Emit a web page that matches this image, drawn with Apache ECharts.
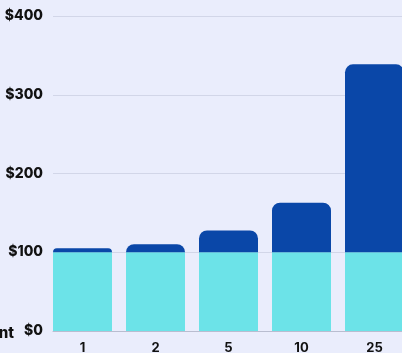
<!DOCTYPE html>
<html>
<head>
<meta charset="utf-8">
<script src="https://cdn.jsdelivr.net/npm/echarts@6/dist/echarts.min.js"></script>
<style>
html,body{margin:0;padding:0;background:#eaedfc;}
#c{width:402px;height:353px;}
</style>
</head>
<body>
<div id="c"></div>
<script>
var years = ['1', '2', '5', '10', '25'];
var initialAmount = [100, 100, 100, 100, 100];
var growthAmount = [5, 10.25, 27.63, 62.89, 238.64];
var yTicks = [0, 100, 200, 300, 400];

var chart = echarts.init(document.getElementById('c'), null, {renderer: 'canvas'});
var font = 'Inter, "Liberation Sans", Arial, sans-serif';
chart.setOption({
  backgroundColor: '#eaedfc',
  animation: false,
  grid: [
    {left: 46, top: 16, width: 365, height: 315, outerBoundsMode: 'none', containLabel: false},
    {left: 53, top: 16, right: 0, height: 315, outerBoundsMode: 'none', containLabel: false}
  ],
  xAxis: [
    {
      type: 'category', gridIndex: 0, data: years,
      axisLine: {show: false}, axisTick: {show: false},
      axisLabel: {margin: 11, color: '#111', fontSize: 13, fontWeight: 'bold', fontFamily: font}
    },
    {
      type: 'value', gridIndex: 1, min: 0, max: 1,
      axisLine: {show: true, onZero: false, lineStyle: {color: '#b9bdd0', width: 1}},
      axisTick: {show: false}, axisLabel: {show: false}, splitLine: {show: false}
    }
  ],
  yAxis: [
    {type: 'value', gridIndex: 0, min: 0, max: 400, interval: 100, show: false},
    {
      type: 'value', gridIndex: 1, min: yTicks[0], max: yTicks[yTicks.length - 1], interval: 100,
      axisLine: {show: false}, axisTick: {show: false},
      splitLine: {lineStyle: {color: '#d2d6e8', width: 1}},
      axisLabel: {
        margin: 10, color: '#111', fontSize: 14, fontWeight: 800, fontFamily: font,
        formatter: function (v) { return '$' + v; }
      }
    }
  ],
  graphic: [{
    type: 'text', z: 10,
    style: {x: 14, y: 333, text: 'Initial investment', align: 'right', verticalAlign: 'middle',
      fill: '#111', font: '800 15px ' + font}
  }],
  series: [
    {
      type: 'bar', xAxisIndex: 0, yAxisIndex: 0, stack: 'total', barWidth: 59,
      data: initialAmount, itemStyle: {color: '#6ce3e8'}
    },
    {
      type: 'bar', xAxisIndex: 0, yAxisIndex: 0, stack: 'total', barWidth: 59,
      data: growthAmount, itemStyle: {color: '#0a47a8', borderRadius: [8, 8, 0, 0]}
    }
  ]
});
</script>
</body>
</html>
